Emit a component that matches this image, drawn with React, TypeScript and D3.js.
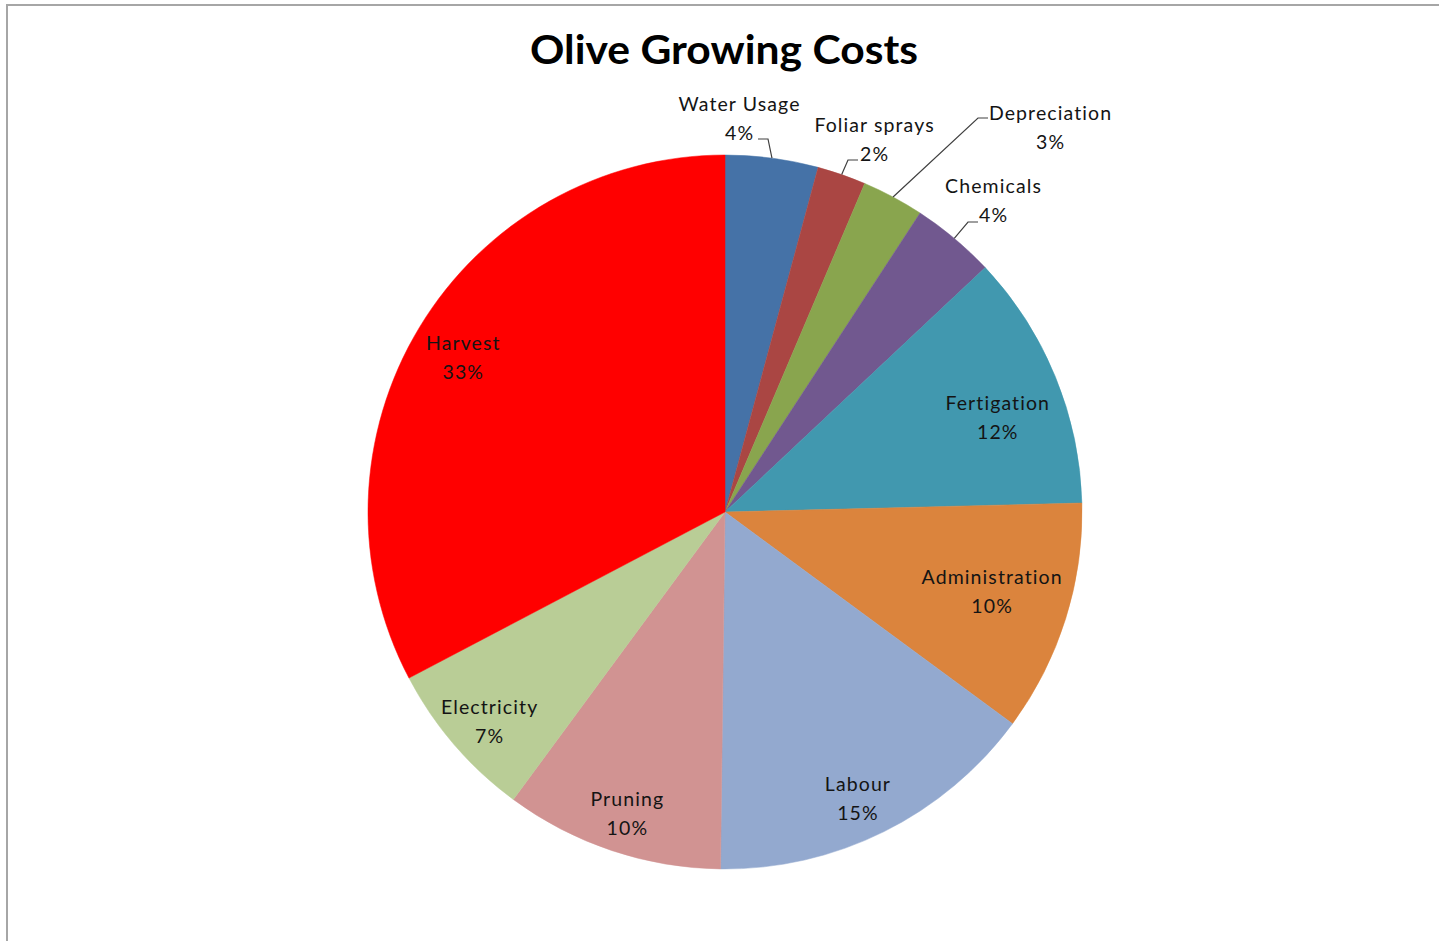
import React from "react";
import * as d3 from "d3";

const categories = ["Water Usage", "Foliar sprays", "Depreciation", "Chemicals", "Fertigation", "Administration", "Labour", "Pruning", "Electricity", "Harvest"];
const values = [4.2, 2.2, 2.8, 3.8, 11.6, 10.5, 15.1, 9.9, 7.2, 32.7];
const percentLabels = ["4%", "2%", "3%", "4%", "12%", "10%", "15%", "10%", "7%", "33%"];
const colors = ["#4572A7", "#AA4643", "#89A54E", "#71588F", "#4198AF", "#DB843D", "#93A9CF", "#D19392", "#B9CD96", "#FF0000"];

// layout (not data): where labels go
const W = 1439, H = 941;
const cx = 725, cy = 512, R = 357;
// inside labels: radius ratio and angle nudge (degrees) from slice mid-angle
const insideLayout: Record<string, { ratio: number; nudge: number }> = {
  Fertigation: { ratio: 0.808, nudge: 3.0 },
  Administration: { ratio: 0.779, nudge: -0.9 },
  Labour: { ratio: 0.882, nudge: 1.6 },
  Pruning: { ratio: 0.888, nudge: -0.5 },
  Electricity: { ratio: 0.882, nudge: -0.8 },
  Harvest: { ratio: 0.853, nudge: -0.6 },
};
// outside labels: label center (name line) + leader knee
const outside: Record<string, { lx: number; ly: number; knee: [number, number]; knee2: [number, number] }> = {
  "Water Usage": { lx: 739, ly: 103, knee: [768, 139], knee2: [758, 139] },
  "Foliar sprays": { lx: 874, ly: 124, knee: [848, 160], knee2: [858, 160] },
  Depreciation: { lx: 1050, ly: 112, knee: [978, 118], knee2: [988, 118] },
  Chemicals: { lx: 993, ly: 185, knee: [968, 222], knee2: [978, 222] },
};

const FONT = "Lato, 'Open Sans', sans-serif";
const LS = 1.1;

function Label({ x, y, name, pct }: { x: number; y: number; name: string; pct: string }) {
  return (
    <g fontFamily={FONT} fontSize={19.5} fill="#141414" textAnchor="middle" style={{ letterSpacing: `${LS}px` }}>
      <text x={x + LS / 2} y={y} dominantBaseline="central">{name}</text>
      <text x={x + LS / 2} y={y + 29} dominantBaseline="central">{pct}</text>
    </g>
  );
}

export default function App() {
  const pie = d3.pie<number>().sort(null).value((d) => d)(values);
  const arc = d3.arc<d3.PieArcDatum<number>>().innerRadius(0).outerRadius(R);
  return (
    <svg width={W} height={H} style={{ position: "absolute", left: 0, top: 0, display: "block", background: "#fff" }}>
      <rect x={7} y={5} width={W} height={H} fill="#fff" stroke="#a6a6a6" strokeWidth={2} />
      <text x={724} y={49} textAnchor="middle" dominantBaseline="central" fontFamily={FONT} fontWeight={700} fontSize={40} fill="#000" textLength={388} lengthAdjust="spacingAndGlyphs">
        Olive Growing Costs
      </text>
      <g transform={`translate(${cx},${cy})`}>
        {pie.map((p, i) => (
          <path key={i} d={arc(p) || ""} fill={colors[i]} stroke={colors[i]} strokeWidth={0.5} />
        ))}
      </g>
      {pie.map((p, i) => {
        const name = categories[i];
        const mid = (p.startAngle + p.endAngle) / 2;
        const inl = insideLayout[name];
        if (inl) {
          const a = mid + (inl.nudge * Math.PI) / 180;
          const r = R * inl.ratio;
          const x = cx + Math.sin(a) * r;
          const y = cy - Math.cos(a) * r;
          return <Label key={name} x={x} y={y - 14.5} name={name} pct={percentLabels[i]} />;
        }
        const o = outside[name];
        const ex = cx + Math.sin(mid) * R;
        const ey = cy - Math.cos(mid) * R;
        return (
          <g key={name}>
            <polyline points={`${ex},${ey} ${o.knee[0]},${o.knee[1]} ${o.knee2[0]},${o.knee2[1]}`} fill="none" stroke="#404040" strokeWidth={1.2} />
            <Label x={o.lx} y={o.ly} name={name} pct={percentLabels[i]} />
          </g>
        );
      })}
    </svg>
  );
}
